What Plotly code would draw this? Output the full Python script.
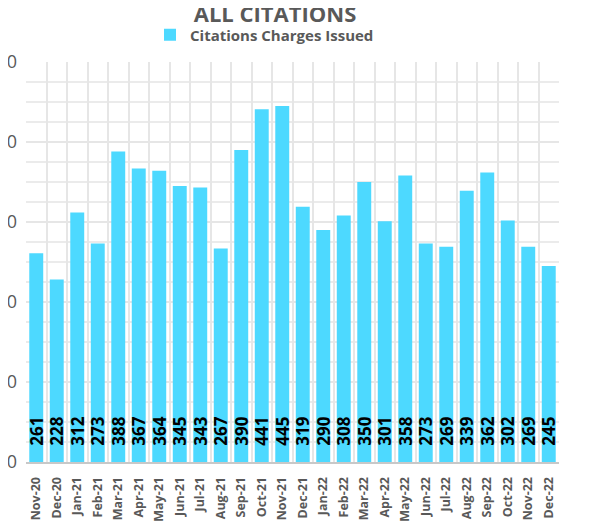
import plotly.graph_objects as go

months = ["Nov-20","Dec-20","Jan-21","Feb-21","Mar-21","Apr-21","May-21","Jun-21","Jul-21","Aug-21",
          "Sep-21","Oct-21","Nov-21","Dec-21","Jan-22","Feb-22","Mar-22","Apr-22","May-22","Jun-22",
          "Jul-22","Aug-22","Sep-22","Oct-22","Nov-22","Dec-22"]
citations = [261,228,312,273,388,367,364,345,343,267,390,441,445,319,290,308,350,301,358,273,
             269,339,362,302,269,245]
y_ticks = [0,100,200,300,400,500]
right_labels = ["1", "1"]
right_label_rows = [57, 124]

FONT = "Open Sans"
GRAY = "#595959"
OFF = 8  # page body margin
W, H = 610, 523 - OFF
L, T = 26 - OFF, 62 - OFF
R = W - (559 - OFF)
B = H - (462 - OFF)
PW, PH = W - L - R, H - T - B

fig = go.Figure()
fig.add_trace(go.Bar(
    x=months, y=citations, name="Citations Charges Issued",
    marker=dict(color="#4DD9FF", line=dict(width=0)),
    text=["\u00a0\u00a0\u00a0" + str(v) for v in citations],
    textposition="inside", insidetextanchor="start",
    textangle=-90, textfont=dict(family=FONT, size=17, color="black", weight="bold"),
    cliponaxis=False,
))

fig.update_layout(
    width=W, height=H,
    margin=dict(l=L, r=R, t=T, b=B, autoexpand=False),
    paper_bgcolor="white", plot_bgcolor="white",
    bargap=0.32,
    showlegend=True,
    title=dict(text="<b>ALL CITATIONS</b>", x=(275 - OFF) / W, xanchor="center",
               y=1 - (14 - OFF) / H, yanchor="middle", xref="container", yref="container",
               font=dict(family=FONT, size=22, color=GRAY)),
    legend=dict(orientation="h", x=(150 - 26) / PW, xanchor="left",
                y=1.0 + (62 - 35) / PH, yanchor="middle",
                font=dict(family=FONT, size=15, color=GRAY, weight="bold"),
                itemwidth=30, bgcolor="rgba(0,0,0,0)"),
    uniformtext=dict(minsize=8, mode="show"),
)
fig.update_xaxes(
    type="category", tickangle=-90, tickson="boundaries", automargin=False,
    showgrid=True, gridcolor="#E6E6E6", gridwidth=2,
    ticks="", showline=True, linecolor="#C8C8C8", linewidth=2,
    ticklabelstandoff=8,
    tickfont=dict(family=FONT, size=12.5, color=GRAY, weight="bold"),
)
fig.update_yaxes(
    range=[0, 500], tickvals=y_ticks, ticktext=[str(v) for v in y_ticks],
    automargin=False,
    showgrid=True, gridcolor="#E6E6E6", gridwidth=2,
    minor=dict(dtick=25, showgrid=True, gridcolor="#EBEBEB", gridwidth=2),
    zeroline=False, showline=False,
    ticklabelstandoff=8,
    tickfont=dict(family=FONT, size=18, color=GRAY),
)
for txt, yp in zip(right_labels, right_label_rows):
    fig.add_annotation(text=txt, xref="paper", yref="paper",
                       x=1, xshift=(581 - 559), y=(462 - yp) / PH,
                       xanchor="left", yanchor="middle",
                       showarrow=False, font=dict(family=FONT, size=18, color=GRAY))

fig.write_html("out.html", post_script="document.body.style.overflow='hidden';")
